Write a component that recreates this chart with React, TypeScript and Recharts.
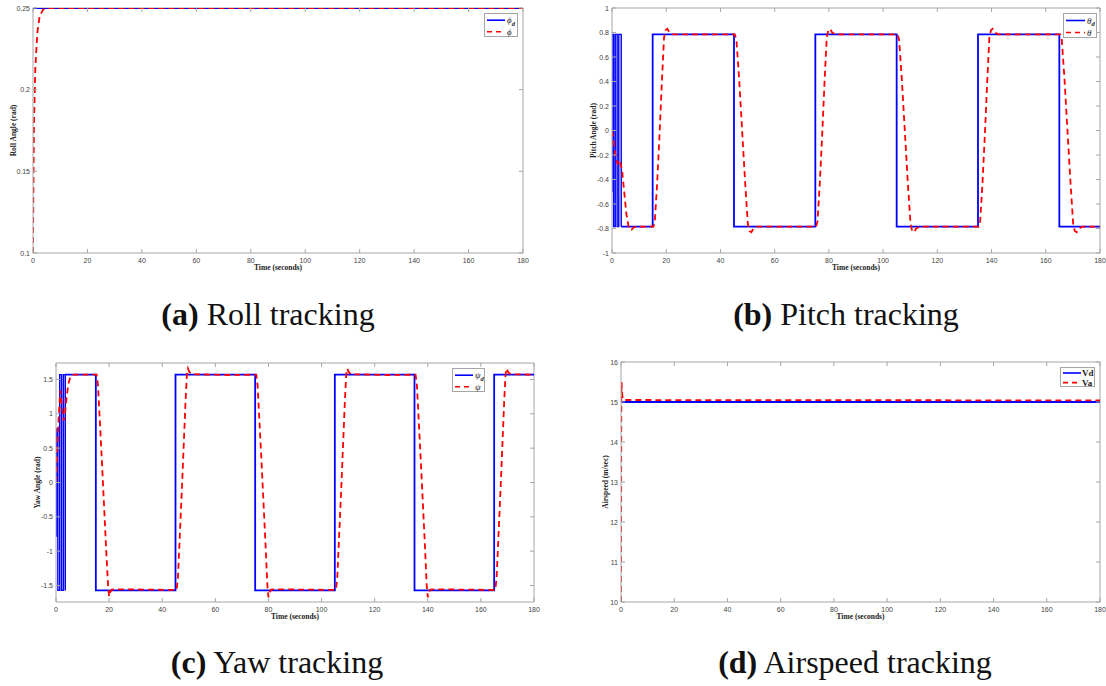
import React from 'react';
import { LineChart, Line, XAxis, YAxis, ReferenceLine, Legend } from 'recharts';

// ---- data ----
const timeTicks = [0, 20, 40, 60, 80, 100, 120, 140, 160, 180];
const rollTicks = [0.1, 0.15, 0.2, 0.25];
const pitchTicks = [-1, -0.8, -0.6, -0.4, -0.2, 0, 0.2, 0.4, 0.6, 0.8, 1];
const yawTicks = [-1.5, -1, -0.5, 0, 0.5, 1, 1.5];
const speedTicks = [10, 11, 12, 13, 14, 15, 16];

const rollBurst: number[][] = [];
const rollDesired = [[0, 0.25], [180, 0.25]];
const rollActual = [
  [0, 0.1], [0.1, 0.13], [0.37, 0.18], [0.87, 0.214], [1.6, 0.235], [2.45, 0.245],
  [3.7, 0.249], [6, 0.25], [180, 0.25],
];

// start-up chattering of the pitch command
const pitchBurst = [
  [0, -0.5], [0, 0.785], [0.6, 0.785], [0.6, -0.785], [1.2, -0.785], [1.2, 0.785],
  [1.9, 0.785], [1.9, -0.785], [2.5, -0.785], [2.5, 0.785], [3.4, 0.785], [3.4, -0.785],
];
const pitchDesired = [
  [3.4, -0.785], [15, -0.785], [15, 0.785], [45, 0.785], [45, -0.785], [75, -0.785],
  [75, 0.785], [105, 0.785], [105, -0.785], [135, -0.785], [135, 0.785], [165, 0.785],
  [165, -0.785], [180, -0.785],
];
const pitchActual = [
  [0, 0], [0.4, -0.05], [1.2, -0.19], [1.7, -0.25], [2.1, -0.27], [2.5, -0.24], [2.9, -0.25],
  [3.7, -0.32], [4.5, -0.5], [5.3, -0.68], [6.1, -0.785], [6.6, -0.81], [7.2, -0.81], [8, -0.79],
  [9, -0.785],
  [15.3, -0.785], [15.8, -0.74], [16.6, -0.45], [17.5, -0.05], [18.4, 0.4], [19.2, 0.76],
  [19.8, 0.82], [20.4, 0.83], [21.2, 0.8], [22.5, 0.785],
  [45.3, 0.785], [45.9, 0.74], [46.9, 0.42], [48, 0], [49.1, -0.42], [50.1, -0.76],
  [50.7, -0.82], [51.4, -0.83], [52.2, -0.8], [53.5, -0.785],
  [75.3, -0.785], [75.8, -0.74], [76.6, -0.45], [77.5, -0.05], [78.4, 0.4], [79.2, 0.76],
  [79.8, 0.82], [80.4, 0.83], [81.2, 0.8], [82.5, 0.785],
  [105.3, 0.785], [105.9, 0.74], [106.9, 0.42], [108, 0], [109.1, -0.42], [110.1, -0.76],
  [110.7, -0.82], [111.4, -0.83], [112.2, -0.8], [113.5, -0.785],
  [135.3, -0.785], [135.8, -0.74], [136.6, -0.45], [137.5, -0.05], [138.4, 0.4], [139.2, 0.76],
  [139.8, 0.82], [140.4, 0.83], [141.2, 0.8], [142.5, 0.785],
  [165.3, 0.785], [165.9, 0.74], [166.9, 0.42], [168, 0], [169.1, -0.42], [170.1, -0.76],
  [170.7, -0.82], [171.4, -0.83], [172.2, -0.8], [173.5, -0.785], [180, -0.785],
];

// start-up chattering of the yaw command
const yawBurst = [
  [0, 0], [0, 0.78], [0.15, 0.78], [0.15, -0.78], [0.3, -0.78], [0.3, 0.78],
  [0.7, 0.78], [0.7, -1.5708], [1.4, -1.5708], [1.4, 1.5708], [2.1, 1.5708], [2.1, -1.5708],
  [2.8, -1.5708], [2.8, 1.5708], [3.5, 1.5708], [3.5, -1.5708], [3.5, 1.5708],
];
const yawDesired = [
  [3.5, 1.5708], [15, 1.5708], [15, -1.5708], [45, -1.5708],
  [45, 1.5708], [75, 1.5708], [75, -1.5708], [105, -1.5708], [105, 1.5708], [135, 1.5708],
  [135, -1.5708], [165, -1.5708], [165, 1.5708], [180, 1.5708],
];
const yawActual = [
  [0, 0], [0.5, 0.45], [1.0, 0.95], [1.6, 1.34], [2.0, 1.2], [2.4, 1.05], [2.9, 0.9], [3.4, 1.0],
  [4.0, 1.25], [4.7, 1.44], [5.5, 1.55], [6.5, 1.57],
  [15.3, 1.57], [15.8, 1.42], [17.3, 0.3], [18.8, -0.9], [19.6, -1.5], [20, -1.66], [20.4, -1.6],
  [21, -1.56], [23, -1.555], [35, -1.56], [45.2, -1.565],
  [45.4, -1.565], [45.9, -1.4], [47.4, -0.1], [48.8, 1.2], [49.3, 1.58], [49.7, 1.66], [50.2, 1.61],
  [51, 1.58], [53, 1.575], [65, 1.565], [75.2, 1.57],
  [75.4, 1.57], [75.9, 1.42], [77.4, 0.3], [78.9, -0.9], [79.6, -1.5], [80, -1.67], [80.4, -1.6],
  [81, -1.56], [83, -1.555], [95, -1.56], [105.2, -1.565],
  [105.4, -1.565], [105.9, -1.4], [107.4, -0.1], [108.8, 1.2], [109.3, 1.58], [109.7, 1.66],
  [110.2, 1.61], [111, 1.58], [113, 1.575], [125, 1.565], [135.2, 1.57],
  [135.4, 1.57], [135.9, 1.42], [137.4, 0.3], [138.9, -0.9], [139.6, -1.5], [140, -1.67],
  [140.4, -1.6], [141, -1.56], [143, -1.555], [155, -1.56], [165.2, -1.565],
  [165.4, -1.565], [165.9, -1.4], [167.4, -0.1], [168.8, 1.2], [169.3, 1.58], [169.7, 1.66],
  [170.2, 1.61], [171, 1.58], [173, 1.575], [180, 1.57],
];

const speedBurst: number[][] = [];
const speedDesired = [[0, 15], [180, 15]];
const speedActual = [
  [0, 10], [0.05, 12.5], [0.12, 15], [0.2, 15.5], [0.35, 15.3], [0.6, 15.1], [1, 15.05], [180, 15.04],
];

// ---- styling ----
const FRAME = '#a6a6a6';
const TICK_TEXT = '#444';
const BLUE = '#0000ff';
const RED = '#ff0000';
const SANS = '"Liberation Sans", Arial, sans-serif';
const SERIF = '"Liberation Serif", "Times New Roman", serif';

const W = 45; // y axis width
const H = 26; // x axis height
const MT = 6;
const MR = 6;

type Box = { left: number; right: number; top: number; bottom: number };
type LegendBox = { x: number; y: number; w: number; h: number };

const toPts = (pairs: number[][]) => pairs.map(([t, v]) => ({ t, v }));

const Sym = ({ main, sub, bold }: { main: string; sub?: string; bold?: boolean }) => (
  <>
    <tspan fontStyle={bold ? 'normal' : 'italic'} fontWeight={bold ? 'bold' : 'normal'}>{main}</tspan>
    {sub && (
      <tspan fontSize={bold ? 9 : 6.5} dy={bold ? 0 : 2.5} fontStyle={bold ? 'normal' : 'italic'} fontWeight="bold">
        {sub}
      </tspan>
    )}
  </>
);

interface PanelProps {
  box: Box;
  yDomain: [number, number];
  yTicks: number[];
  yLabel: string;
  labelX: number;
  burst: number[][];
  desired: number[][];
  actual: number[][];
  legend: LegendBox;
  lineEnd: number;
  textX: number;
  desiredLabel: React.ReactNode;
  actualLabel: React.ReactNode;
}

const Panel: React.FC<PanelProps> = ({
  box, yDomain, yTicks, yLabel, labelX, burst, desired, actual, legend, lineEnd, textX, desiredLabel, actualLabel,
}) => {
  const plotW = box.right - box.left;
  const plotH = box.bottom - box.top;
  const chartLeft = box.left - W;
  const chartTop = box.top - MT;
  const width = W + plotW + MR;
  const height = MT + plotH + H;
  // plot edges in chart coordinates
  const top = MT;
  const bottom = MT + plotH;
  const left = W;
  const right = W + plotW;

  const XTick = (props: any) => (
    <g>
      <line x1={props.x} x2={props.x} y1={bottom} y2={bottom - 4} stroke={FRAME} />
      <line x1={props.x} x2={props.x} y1={top} y2={top + 4} stroke={FRAME} />
      <text x={props.x} y={bottom + 10} textAnchor="middle" fontSize={7} fill={TICK_TEXT} fontFamily={SANS}>
        {props.payload.value}
      </text>
    </g>
  );
  const YTick = (props: any) => (
    <g>
      <line x1={left} x2={left + 4} y1={props.y} y2={props.y} stroke={FRAME} />
      <line x1={right} x2={right - 4} y1={props.y} y2={props.y} stroke={FRAME} />
      <text x={left - 3} y={props.y + 2.5} textAnchor="end" fontSize={7} fill={TICK_TEXT} fontFamily={SANS}>
        {props.payload.value}
      </text>
    </g>
  );

  const lh = legend.h;
  const renderLegend = () => (
    <svg width={legend.w} height={lh} style={{ display: 'block' }}>
      <rect x={0.5} y={0.5} width={legend.w - 1} height={lh - 1} fill="#fff" stroke={FRAME} />
      <line x1={3} x2={lineEnd} y1={lh * 0.3} y2={lh * 0.3} stroke={BLUE} strokeWidth={1.6} />
      <line x1={3} x2={lineEnd} y1={lh * 0.78} y2={lh * 0.78} stroke={RED} strokeWidth={1.6} strokeDasharray="5 4" />
      <text x={textX} y={lh * 0.3 + 3} fontSize={9} fontFamily={SERIF} fill="#222">{desiredLabel}</text>
      <text x={textX} y={lh * 0.78 + 3} fontSize={9} fontFamily={SERIF} fill="#222">{actualLabel}</text>
    </svg>
  );

  return (
    <div style={{ position: 'absolute', left: chartLeft, top: chartTop }}>
      <LineChart width={width} height={height} margin={{ top: MT, right: MR, left: 0, bottom: 0 }}>
        <XAxis
          type="number"
          dataKey="t"
          domain={[0, 180]}
          ticks={timeTicks}
          interval={0}
          allowDataOverflow
          height={H}
          tickLine={false}
          tickSize={0}
          axisLine={{ stroke: FRAME }}
          tick={XTick}
          label={{
            value: 'Time (seconds)',
            position: 'insideTop',
            offset: 12,
            fontSize: 7.5,
            fontWeight: 'bold',
            fontFamily: SERIF,
            fill: '#222',
          }}
        />
        <YAxis
          type="number"
          domain={yDomain}
          ticks={yTicks}
          interval={0}
          allowDataOverflow
          width={W}
          tickLine={false}
          tickSize={0}
          axisLine={{ stroke: FRAME }}
          tick={YTick}
          label={{
            value: yLabel,
            angle: -90,
            position: 'insideLeft',
            offset: labelX - chartLeft,
            fontSize: 7.5,
            fontWeight: 'bold',
            fontFamily: SERIF,
            fill: '#222',
            style: { textAnchor: 'middle' },
          }}
        />
        <ReferenceLine y={yDomain[1]} stroke={FRAME} />
        <ReferenceLine x={180} stroke={FRAME} />
        {burst.length > 0 && (
          <Line
            data={toPts(burst)}
            dataKey="v"
            type="linear"
            stroke={BLUE}
            strokeWidth={1.4}
            dot={false}
            isAnimationActive={false}
          />
        )}
        <Line
          data={toPts(desired)}
          dataKey="v"
          type="linear"
          stroke={BLUE}
          strokeWidth={1.8}
          dot={false}
          isAnimationActive={false}
        />
        <Line
          data={toPts(actual)}
          dataKey="v"
          type="linear"
          stroke={RED}
          strokeWidth={1.8}
          strokeDasharray="6 4"
          dot={false}
          isAnimationActive={false}
        />
        <Legend
          layout="vertical"
          align="center"
          verticalAlign="middle"
          wrapperStyle={{ top: legend.y - chartTop, left: legend.x - chartLeft, width: legend.w, height: legend.h }}
          content={renderLegend}
        />
      </LineChart>
    </div>
  );
};

const Caption = ({ cx, baseline, tag, text }: { cx: number; baseline: number; tag: string; text: string }) => (
  <div
    style={{
      position: 'absolute',
      left: cx - 250,
      width: 500,
      top: baseline - 29,
      textAlign: 'center',
      fontFamily: SERIF,
      fontSize: 32,
      lineHeight: '32px',
      color: '#111',
      whiteSpace: 'nowrap',
    }}
  >
    <b>({tag})</b> {text}
  </div>
);

export default function App() {
  return (
    <div style={{ position: 'absolute', left: 0, top: 0, width: 1106, height: 686, background: '#fff', overflow: 'hidden' }}>
      <Panel
        box={{ left: 33, right: 523, top: 8, bottom: 253 }}
        yDomain={[0.1, 0.25]}
        yTicks={rollTicks}
        yLabel="Roll Angle (rad)"
        labelX={13}
        burst={rollBurst}
        desired={rollDesired}
        actual={rollActual}
        legend={{ x: 484, y: 13, w: 34, h: 24 }}
        lineEnd={21}
        textX={23}
        desiredLabel={<Sym main="ϕ" sub="d" />}
        actualLabel={<Sym main="ϕ" />}
      />
      <Panel
        box={{ left: 612, right: 1100, top: 8, bottom: 253 }}
        yDomain={[-1, 1]}
        yTicks={pitchTicks}
        yLabel="Pitch Angle (rad)"
        labelX={593}
        burst={pitchBurst}
        desired={pitchDesired}
        actual={pitchActual}
        legend={{ x: 1063, y: 13, w: 34, h: 25 }}
        lineEnd={22}
        textX={24}
        desiredLabel={<Sym main="θ" sub="d" />}
        actualLabel={<Sym main="θ" />}
      />
      <Panel
        box={{ left: 56, right: 534, top: 363, bottom: 602 }}
        yDomain={[-1.74, 1.74]}
        yTicks={yawTicks}
        yLabel="Yaw Angle (rad)"
        labelX={37}
        burst={yawBurst}
        desired={yawDesired}
        actual={yawActual}
        legend={{ x: 452, y: 368, w: 33, h: 24 }}
        lineEnd={21}
        textX={23}
        desiredLabel={<Sym main="ψ" sub="d" />}
        actualLabel={<Sym main="ψ" />}
      />
      <Panel
        box={{ left: 621, right: 1100, top: 362, bottom: 602 }}
        yDomain={[10, 16]}
        yTicks={speedTicks}
        yLabel="Airspeed (m/sec)"
        labelX={605}
        burst={speedBurst}
        desired={speedDesired}
        actual={speedActual}
        legend={{ x: 1060, y: 367, w: 35, h: 20 }}
        lineEnd={21}
        textX={22}
        desiredLabel={<Sym main="V" sub="d" bold />}
        actualLabel={<Sym main="V" sub="a" bold />}
      />
      <Caption cx={268} baseline={327} tag="a" text="Roll tracking" />
      <Caption cx={846} baseline={327} tag="b" text="Pitch tracking" />
      <Caption cx={277} baseline={675} tag="c" text="Yaw tracking" />
      <Caption cx={855} baseline={675} tag="d" text="Airspeed tracking" />
    </div>
  );
}
